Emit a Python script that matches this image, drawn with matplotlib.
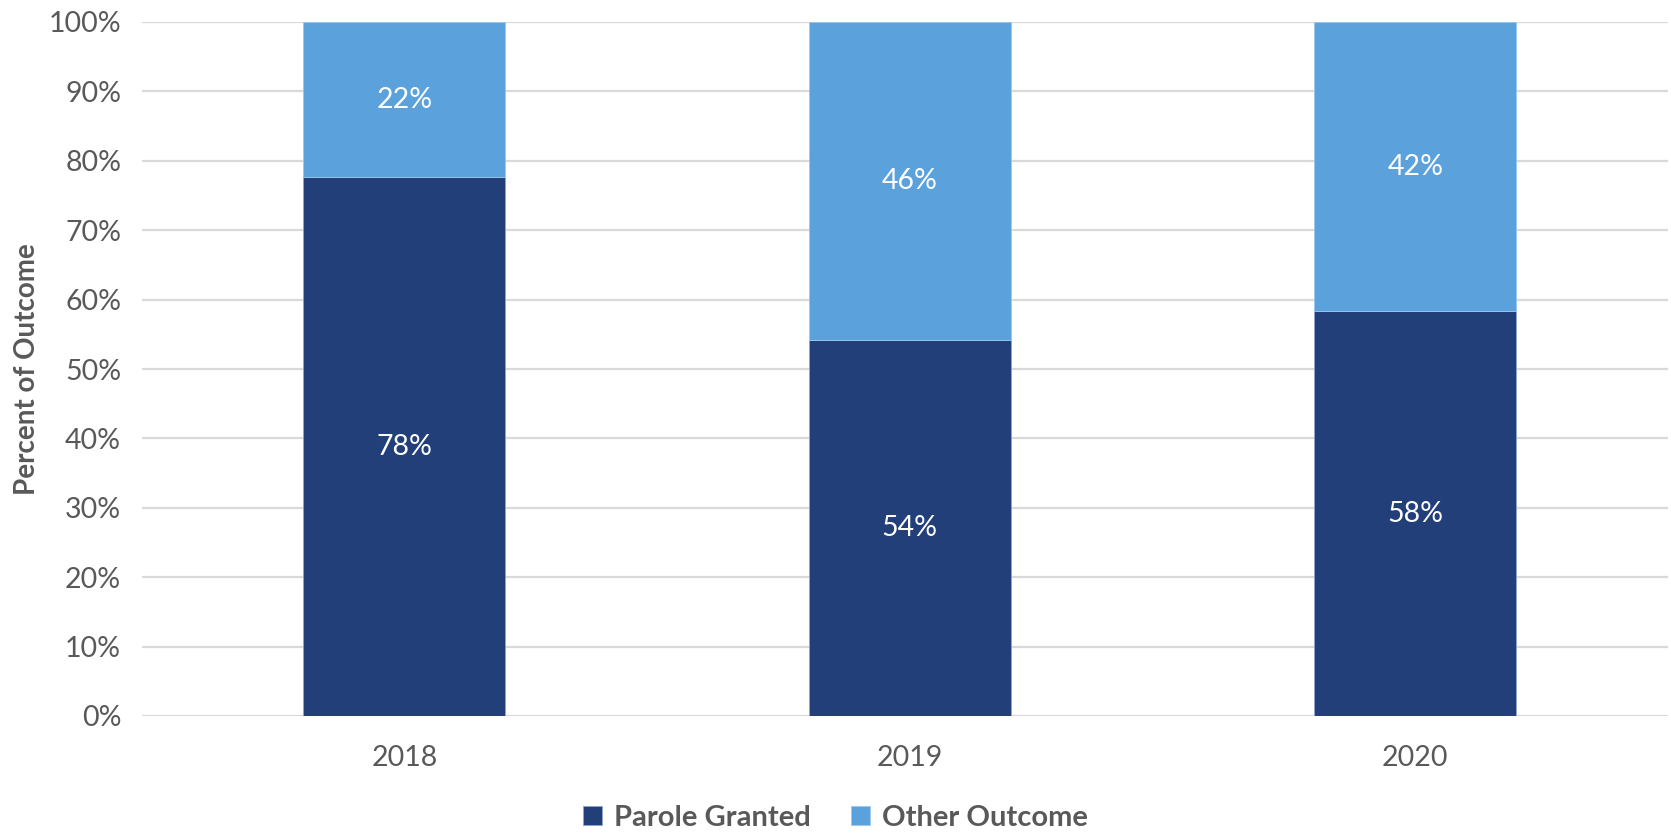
import matplotlib.pyplot as plt

years = ["2018", "2019", "2020"]
parole_granted = [77.6, 54.2, 58.3]
other_outcome = [22.4, 45.8, 41.7]
series_names = ["Parole Granted", "Other Outcome"]

DARK = "#223F7A"
LIGHT = "#5BA1DB"
GREY = "#595959"

plt.rcParams["font.family"] = ["Lato", "DejaVu Sans"]

fig = plt.figure(figsize=(16.71, 8.34), dpi=100)
ax = fig.add_axes([142 / 1671, 1 - 716 / 834, (1668 - 142) / 1671, (716 - 22) / 834])

x = range(len(years))
b1 = ax.bar(x, parole_granted, width=0.4, color=DARK, edgecolor="#8FA6CF",
            linewidth=0.6, label=series_names[0], zorder=3)
b2 = ax.bar(x, other_outcome, width=0.4, bottom=parole_granted, color=LIGHT,
            edgecolor="#9CC8EE", linewidth=0.6, label=series_names[1], zorder=3)

# segment labels in the middle of each stack piece
for i in x:
    ax.text(i, parole_granted[i] / 2, f"{parole_granted[i]:.0f}%", ha="center",
            va="center", color="white", fontsize=20.5, zorder=4)
    ax.text(i, parole_granted[i] + other_outcome[i] / 2, f"{other_outcome[i]:.0f}%",
            ha="center", va="center", color="white", fontsize=20.5, zorder=4)

ax.set_xlim(-0.519, 2.5)
ax.set_ylim(0, 100)
ax.set_yticks(range(0, 101, 10))
ax.set_yticklabels([f"{v}%" for v in range(0, 101, 10)])
ax.set_xticks(list(x))
ax.set_xticklabels(years)
ax.tick_params(axis="both", length=0, labelsize=20.5, labelcolor=GREY)
ax.tick_params(axis="y", pad=15)
ax.tick_params(axis="x", pad=21)
ax.yaxis.grid(True, color="#D9D9D9", linewidth=1.6, zorder=0)
for s in ax.spines.values():
    s.set_visible(False)

ax.set_ylabel("Percent of Outcome", fontsize=20, fontweight="bold", color=GREY,
              labelpad=6)

fig.legend(handles=[b1, b2], loc="center", bbox_to_anchor=(0.5, 1 - 818 / 834),
           ncol=2, frameon=False, handlelength=0.65, handleheight=0.65,
           columnspacing=1.4, handletextpad=0.4,
           prop={"weight": "bold", "size": 21})
for t in fig.legends[0].get_texts():
    t.set_color(GREY)

fig.savefig("out.png", dpi=100)
